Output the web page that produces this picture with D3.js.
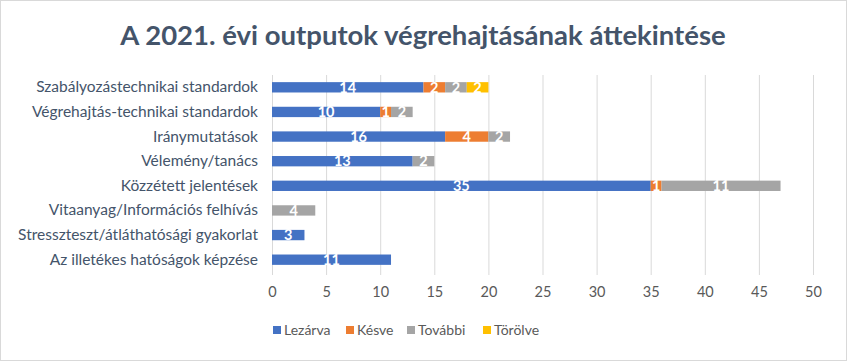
<!DOCTYPE html>
<html>
<head>
<meta charset="utf-8">
<script src="https://cdn.jsdelivr.net/npm/d3@7"></script>
<style>
  body { margin: 0; background: #fff; }
  text { font-family: Lato, "Open Sans", sans-serif; }
</style>
</head>
<body>
<svg id="chart" width="847" height="361"></svg>
<script>
const categories = [
  'Szabályozástechnikai standardok',
  'Végrehajtás-technikai standardok',
  'Iránymutatások',
  'Vélemény/tanács',
  'Közzétett jelentések',
  'Vitaanyag/Információs felhívás',
  'Stresszteszt/átláthatósági gyakorlat',
  'Az illetékes hatóságok képzése'
]
const seriesNames = ['Lezárva', 'Késve', 'További', 'Törölve']
const lezarva = [14, 10, 16, 13, 35, 0, 3, 11]
const kesve = [2, 1, 4, 0, 1, 0, 0, 0]
const tovabbi = [2, 2, 2, 2, 11, 4, 0, 0]
const torolve = [2, 0, 0, 0, 0, 0, 0, 0]
const xTicks = [0, 5, 10, 15, 20, 25, 30, 35, 40, 45, 50]
const colors = ['#4472c4', '#ed7d31', '#a5a5a5', '#ffc000']

const rows = categories.map((c, i) => ({
  cat: c, 'Lezárva': lezarva[i], 'Késve': kesve[i], 'További': tovabbi[i], 'Törölve': torolve[i]
}))
const stacked = d3.stack().keys(seriesNames)(rows)

const svg = d3.select('#chart')
svg.append('rect')
  .attr('x', 0.5).attr('y', 0.5).attr('width', 846).attr('height', 360)
  .attr('fill', '#fff').attr('stroke', '#d9d9d9')

svg.append('text')
  .attr('x', 423).attr('y', 45)
  .attr('text-anchor', 'middle')
  .attr('font-size', 27.5).attr('font-weight', 'bold')
  .attr('fill', '#44546a')
  .text('A 2021. évi outputok végrehajtásának áttekintése')

const x = d3.scaleLinear().domain([0, 50]).range([272, 813])
const y = d3.scaleBand().domain(categories).range([75, 272]).paddingInner(0.58).paddingOuter(0.29)

// gridlines
svg.append('g').selectAll('line').data(xTicks).join('line')
  .attr('x1', d => x(d) + 0.5).attr('x2', d => x(d) + 0.5)
  .attr('y1', 75).attr('y2', 275)
  .attr('stroke', '#d9d9d9')

const xAxis = svg.append('g').attr('transform', 'translate(0,275)')
  .call(d3.axisBottom(x).tickValues(xTicks).tickSize(0).tickPadding(12))
xAxis.select('.domain').remove()
xAxis.selectAll('text').attr('font-size', 14.5).attr('fill', '#595959')
  .style('font-family', 'Lato, "Open Sans", sans-serif')

const yAxis = svg.append('g').attr('transform', 'translate(272,0)')
  .call(d3.axisLeft(y).tickSize(0).tickPadding(14))
yAxis.select('.domain').remove()
yAxis.selectAll('text').attr('font-size', 15.5).attr('fill', '#44546a')
  .style('font-family', 'Lato, "Open Sans", sans-serif')

const layers = svg.append('g').selectAll('g').data(stacked).join('g')
  .attr('fill', (d, i) => colors[i])

layers.selectAll('rect').data(d => d).join('rect')
  .attr('x', d => x(d[0]))
  .attr('y', d => y(d.data.cat))
  .attr('width', d => x(d[1]) - x(d[0]))
  .attr('height', y.bandwidth())

layers.selectAll('text').data(d => d.filter(v => v[1] - v[0] > 0)).join('text')
  .attr('x', d => (x(d[0]) + x(d[1])) / 2)
  .attr('y', d => y(d.data.cat) + y.bandwidth() / 2)
  .attr('dy', '0.36em')
  .attr('text-anchor', 'middle')
  .attr('font-size', 14.5).attr('font-weight', 'bold')
  .attr('fill', '#fff')
  .text(d => d[1] - d[0])

// legend
const legendX = [273, 346, 407, 483]
const legend = svg.append('g').selectAll('g').data(seriesNames).join('g')
  .attr('transform', (d, i) => `translate(${legendX[i]},330)`)
legend.append('rect').attr('x', 0).attr('y', -4).attr('width', 8).attr('height', 8)
  .attr('fill', (d, i) => colors[i])
legend.append('text').attr('x', 11).attr('dy', '0.36em')
  .attr('font-size', 14).attr('fill', '#595959')
  .text(d => d)
</script>
</body>
</html>
